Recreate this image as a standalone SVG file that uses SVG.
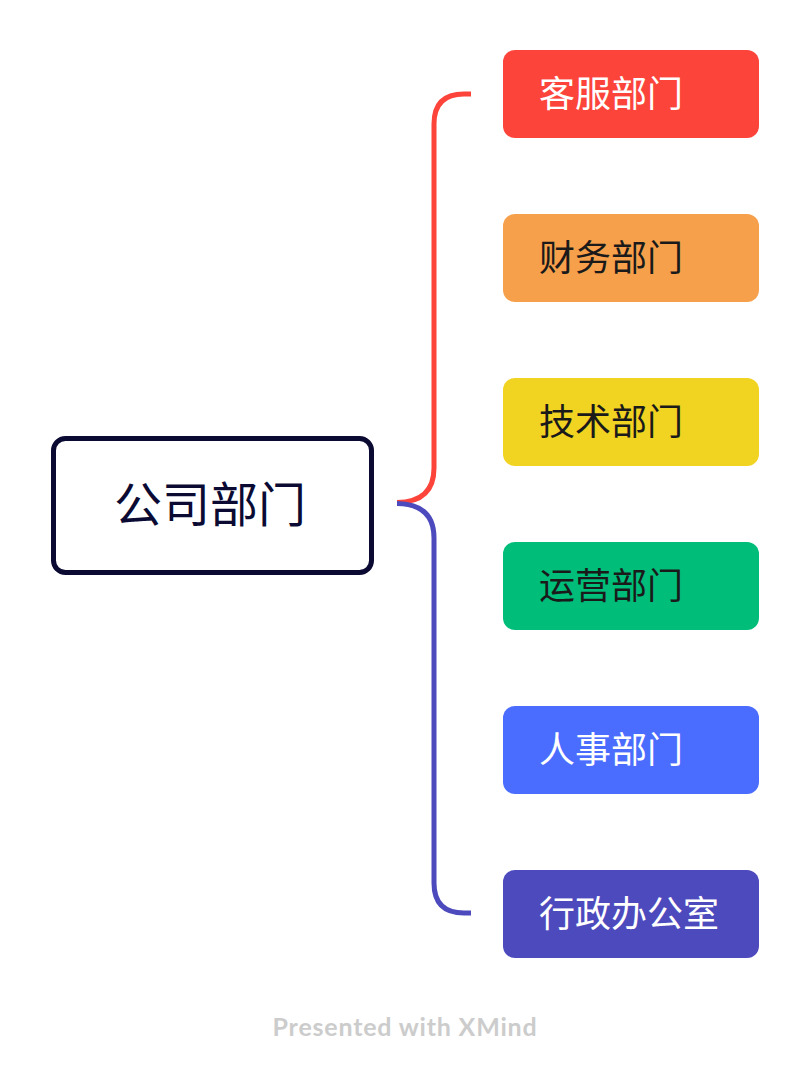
<svg xmlns="http://www.w3.org/2000/svg" width="810" height="1078" viewBox="0 0 810 1078">
<style>
.box{stroke:none}
.t{font-family:"Noto Sans CJK SC","Noto Sans",sans-serif;font-size:36px}
.w{fill:#ffffff}
.k{fill:#1a1a1a}
.conn{fill:none;stroke-width:5;stroke-linecap:butt}
</style>
<rect width="810" height="1078" fill="#ffffff"/>
<g id="connectors">
<path class="conn" stroke="#FC443B" d="M397,502.5 Q434,502 434,468 L434,124 Q434,94 464,94 L471,94"/>
<path class="conn" stroke="#4D4ABD" d="M397,503.5 Q434,504 434,538 L434,883 Q434,913 464,913 L471,913"/>
</g>
<g id="root">
<rect x="53.5" y="438.5" width="318" height="134" rx="12" fill="#ffffff" stroke="#0B0A33" stroke-width="5"/>
<text x="210" y="522" text-anchor="middle" font-family="Noto Sans CJK SC, sans-serif" font-size="48" fill="#0B0A33">公司部门</text>
</g>
<g id="n1">
<rect class="box" x="503" y="50" width="256" height="88" rx="12" fill="#FC443B"/>
<text class="t w" x="539" y="107">客服部门</text>
</g>
<g id="n2">
<rect class="box" x="503" y="214" width="256" height="88" rx="12" fill="#F7A04B"/>
<text class="t k" x="539" y="271">财务部门</text>
</g>
<g id="n3">
<rect class="box" x="503" y="378" width="256" height="88" rx="12" fill="#F1D321"/>
<text class="t k" x="539" y="435">技术部门</text>
</g>
<g id="n4">
<rect class="box" x="503" y="542" width="256" height="88" rx="12" fill="#00BD79"/>
<text class="t k" x="539" y="599">运营部门</text>
</g>
<g id="n5">
<rect class="box" x="503" y="706" width="256" height="88" rx="12" fill="#4A6CFF"/>
<text class="t w" x="539" y="763">人事部门</text>
</g>
<g id="n6">
<rect class="box" x="503" y="870" width="256" height="88" rx="12" fill="#4D4ABD"/>
<text class="t w" x="539" y="927">行政办公室</text>
</g>
<text x="405" y="1036" text-anchor="middle" font-family="Lato, 'Open Sans', sans-serif" font-weight="bold" font-size="25" letter-spacing="0.8" fill="#CCCCCC">Presented with XMind</text>
</svg>
